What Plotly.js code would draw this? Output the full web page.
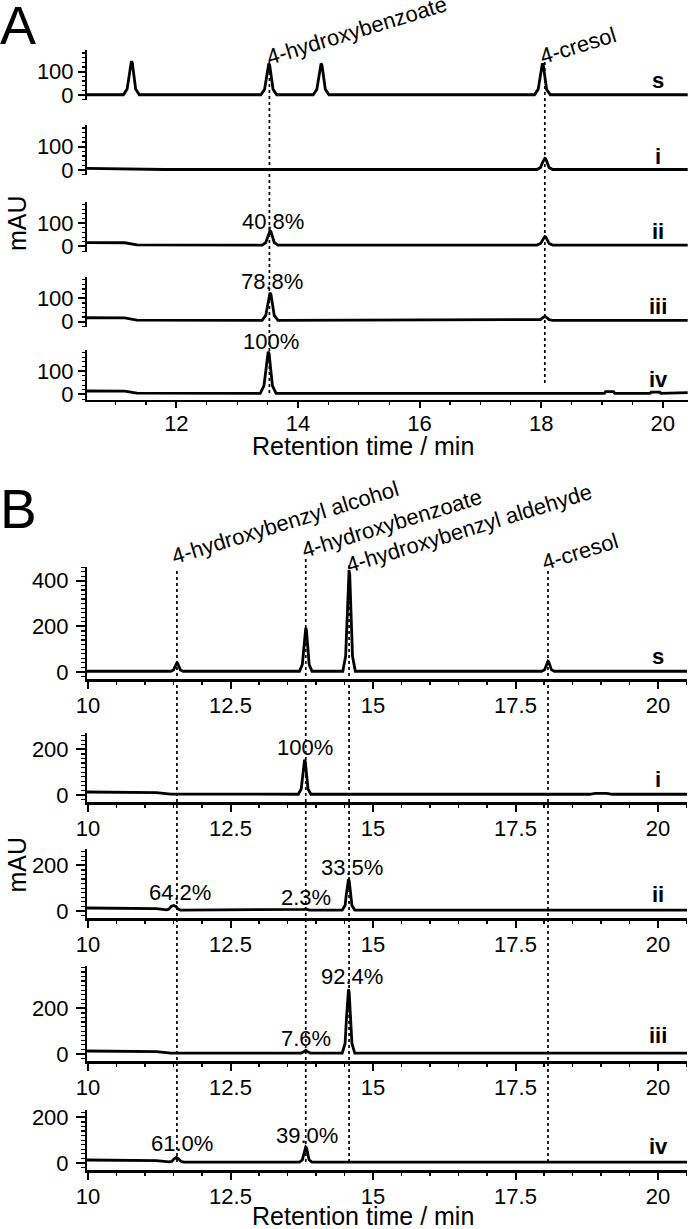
<!DOCTYPE html>
<html>
<head>
<meta charset="utf-8">
<script src="https://cdn.plot.ly/plotly-3.0.1.min.js"></script>
<style>html,body{margin:0;padding:0;background:#fff;}#chart{width:693px;height:1229px;}</style>
</head>
<body>
<div id="chart"></div>
<script>
// ---------------- DATA ----------------
// Panel A: retention time (min) / absorbance (mAU)
const traceNames = ['s', 'i', 'ii', 'iii', 'iv'];

const A_s_x = [10.53, 11.13, 11.19, 11.22, 11.245, 11.26, 11.275, 11.30, 11.33, 11.39, 13.39, 13.45, 13.48, 13.505, 13.52, 13.535, 13.56, 13.59, 13.65, 14.25, 14.31, 14.34, 14.365, 14.38, 14.395, 14.42, 14.45, 14.51, 17.89, 17.95, 17.98, 18.005, 18.02, 18.035, 18.06, 18.09, 18.15, 20.41];
const A_s_y = [1, 1, 26, 87, 138, 145, 138, 87, 26, 1, 1, 24, 81, 128, 135, 128, 81, 24, 1, 1, 24, 81, 128, 135, 128, 81, 24, 1, 1, 24, 81, 128, 135, 128, 81, 24, 1, 1];

const A_i_x = [10.53, 11.15, 11.5, 11.8, 17.93, 17.99, 18.02, 18.045, 18.06, 18.075, 18.10, 18.13, 18.19, 20.41];
const A_i_y = [7, 6, 3, 2, 2, 11, 31, 48, 50, 48, 31, 11, 2, 2];

const A_ii_x = [10.53, 11.15, 11.35, 13.41, 13.47, 13.50, 13.525, 13.54, 13.555, 13.58, 13.61, 13.67, 17.93, 17.99, 18.02, 18.045, 18.06, 18.075, 18.10, 18.13, 18.19, 20.41];
const A_ii_y = [17, 16, 7, 6, 17, 43, 64, 67, 64, 43, 17, 6, 6, 13, 28, 41, 43, 41, 28, 13, 6, 6];

const A_iii_x = [10.53, 11.15, 11.35, 13.41, 13.47, 13.50, 13.525, 13.54, 13.555, 13.58, 13.61, 13.67, 17.93, 17.99, 18.02, 18.045, 18.06, 18.075, 18.10, 18.13, 18.19, 20.41];
const A_iii_y = [17, 16, 7, 6, 27, 77, 118, 124, 118, 77, 27, 6, 6, 9, 16, 21, 22, 21, 16, 9, 6, 6];

const A_iv_x = [10.53, 11.15, 11.35, 13.38, 13.44, 13.47, 13.495, 13.51, 13.525, 13.55, 13.58, 13.64, 19.04, 19.06, 19.19, 19.21, 19.79, 19.81, 19.95, 19.97, 20.15, 20.18, 20.41];
const A_iv_y = [15, 14, 6, 5, 37, 112, 175, 184, 175, 112, 37, 5, 5, 12, 12, 5, 5, 10, 10, 5, 5, 8, 8];

// Panel B
const B_s_x = [9.98, 11.45, 11.50, 11.525, 11.548, 11.56, 11.572, 11.595, 11.62, 11.67, 13.71, 13.76, 13.785, 13.808, 13.82, 13.832, 13.855, 13.88, 13.93, 14.47, 14.52, 14.545, 14.568, 14.58, 14.592, 14.615, 14.64, 14.69, 17.96, 18.01, 18.035, 18.058, 18.07, 18.082, 18.105, 18.13, 18.18, 18.85, 18.95, 19.1, 19.2, 20.51];
const B_s_y = [3, 3, 9, 24, 38, 40, 38, 24, 9, 3, 3, 32, 107, 184, 193, 184, 107, 32, 3, 3, 70, 247, 425, 447, 425, 247, 70, 3, 3, 10, 27, 45, 47, 45, 27, 10, 3, 3, 6, 6, 3, 3];

const B_i_x = [9.98, 11.0, 11.2, 11.45, 12.5, 13.69, 13.74, 13.765, 13.788, 13.80, 13.812, 13.835, 13.86, 13.91, 18.8, 18.9, 19.1, 19.2, 20.51];
const B_i_y = [13, 13, 10, 4, 3, 3, 26, 86, 147, 155, 147, 86, 26, 3, 3, 7, 7, 3, 3];

const B_ii_x = [9.98, 11.0, 11.2, 11.38, 11.42, 11.46, 11.50, 11.54, 11.58, 11.62, 13.75, 13.80, 13.82, 13.84, 13.89, 14.46, 14.51, 14.535, 14.558, 14.57, 14.582, 14.605, 14.63, 14.68, 18.8, 18.9, 19.1, 19.2, 20.51];
const B_ii_y = [13, 13, 10, 5, 8, 20, 24, 20, 8, 4, 4, 7, 8, 7, 4, 4, 24, 78, 133, 139, 133, 78, 24, 4, 4, 7, 7, 4, 4];

const B_iii_x = [9.98, 11.0, 11.2, 11.45, 13.74, 13.79, 13.82, 13.85, 13.90, 14.46, 14.51, 14.535, 14.558, 14.57, 14.582, 14.605, 14.63, 14.68, 18.8, 18.9, 19.1, 19.2, 20.51];
const B_iii_y = [13, 13, 10, 4, 4, 10, 16, 10, 4, 4, 46, 158, 270, 284, 270, 158, 46, 4, 4, 7, 7, 4, 4];

const B_iv_x = [9.98, 11.0, 11.2, 11.42, 11.47, 11.51, 11.55, 11.59, 11.63, 11.68, 13.71, 13.76, 13.785, 13.808, 13.82, 13.832, 13.855, 13.88, 13.93, 18.8, 18.9, 19.1, 19.2, 20.51];
const B_iv_y = [13, 13, 10, 5, 7, 18, 24, 18, 7, 4, 4, 13, 40, 67, 70, 67, 40, 13, 4, 4, 7, 7, 4, 4];

// Compound marker lines (retention times) and names
const A_compounds = ['4-hydroxybenzoate', '4-cresol'];
const A_compound_t = [13.53, 18.06];
const B_compounds = ['4-hydroxybenzyl alcohol', '4-hydroxybenzoate', '4-hydroxybenzyl aldehyde', '4-cresol'];
const B_compound_t = [11.56, 13.82, 14.58, 18.07];

// Percentage labels
const A_pct_text = ['40.8%', '78.8%', '100%'];
const A_pct_trace = [2, 3, 4];
const A_pct_t = [13.54, 13.54, 13.51];
const B_pct_text = ['100%', '64.2%', '2.3%', '33.5%', '92.4%', '7.6%', '61.0%', '39.0%'];
const B_pct_trace = [1, 2, 2, 2, 3, 3, 4, 4];
const B_pct_t = [13.80, 11.50, 13.82, 14.57, 14.57, 13.82, 11.55, 13.82];

const xTitle = 'Retention time / min';
const yTitle = 'mAU';

// ---------------- LAYOUT (pixel geometry) ----------------
const W = 693, H = 1229;
const px = v => v / W;
const py = v => 1 - v / H;
const FONT = 'Liberation Sans, Arial, Helvetica, sans-serif';

const Ax = [A_s_x, A_i_x, A_ii_x, A_iii_x, A_iv_x];
const Ay = [A_s_y, A_i_y, A_ii_y, A_iii_y, A_iv_y];
const Bx = [B_s_x, B_i_x, B_ii_x, B_iii_x, B_iv_x];
const By = [B_s_y, B_i_y, B_ii_y, B_iii_y, B_iv_y];

// zero-line pixel rows for panel A subplots; B: zero row and top row
const A_zero = [95, 170, 246.5, 321.7, 394.5];
const B_zero = [672, 795, 911, 1054, 1163];
const B_top = [567, 733, 849, 966, 1110];
const A_label_y = [80, 156.5, 231.7, 306.4, 379.7];
const B_label_y = [656.4, 779.7, 894, 1035.7, 1146.4];

const data = [];
const layout = {
  width: W, height: H, autosize: false,
  margin: {l: 0, r: 0, t: 0, b: 0, pad: 0},
  paper_bgcolor: '#fff', plot_bgcolor: 'rgba(0,0,0,0)',
  showlegend: false,
  font: {family: FONT, color: '#000', size: 22},
  annotations: [], shapes: []
};

const lineStyle = {color: '#000', width: 2.8};

// Panel A
for (let k = 0; k < 5; k++) {
  const yname = k === 0 ? 'y' : 'y' + (k + 1);
  data.push({x: Ax[k], y: Ay[k], xaxis: 'x', yaxis: yname, type: 'scatter', mode: 'lines',
    line: lineStyle, hoverinfo: 'skip', name: traceNames[k]});
  layout[k === 0 ? 'yaxis' : 'yaxis' + (k + 1)] = {
    domain: [py(A_zero[k] + 5), py(A_zero[k] - 45)], range: [-21.5, 193], anchor: 'x',
    showline: true, linecolor: '#000', linewidth: 2, showgrid: false, zeroline: false,
    ticks: 'outside', ticklen: 7, tickwidth: 2, tickcolor: '#000', dtick: 100, tick0: 0,
    minor: {ticks: 'outside', ticklen: 3, tickwidth: 1.2, tickcolor: '#000', dtick: 20, showgrid: false},
    tickfont: {size: 22, family: FONT, color: '#000'}, fixedrange: true
  };
  layout.annotations.push({text: '<b>' + traceNames[k] + '</b>', xref: 'paper', yref: 'paper',
    x: px(658), y: py(A_label_y[k]), xanchor: 'center', yanchor: 'middle', showarrow: false,
    font: {size: 22, family: FONT, color: '#000'}});
}
layout.xaxis = {
  domain: [px(87), px(688)], range: [10.53, 20.415], anchor: 'y5',
  showline: true, linecolor: '#000', linewidth: 2.2, showgrid: false, zeroline: false,
  ticks: 'outside', ticklen: 6, tickwidth: 2, tickcolor: '#000', dtick: 2, tick0: 0,
  minor: {ticks: 'outside', ticklen: 3.5, tickwidth: 1.2, tickcolor: '#000', dtick: 0.5, showgrid: false},
  tickfont: {size: 22, family: FONT, color: '#000'}, ticklabelstandoff: -3, fixedrange: true
};

// Panel B
for (let k = 0; k < 5; k++) {
  const xi = k + 2, yi = k + 6;
  data.push({x: Bx[k], y: By[k], xaxis: 'x' + xi, yaxis: 'y' + yi, type: 'scatter', mode: 'lines',
    line: lineStyle, hoverinfo: 'skip', name: traceNames[k]});
  const top = (B_zero[k] - B_top[k]) / 0.228;
  layout['yaxis' + yi] = {
    domain: [py(B_zero[k] + 7), py(B_top[k])], range: [-31, top], anchor: 'x' + xi,
    showline: true, linecolor: '#000', linewidth: 2, showgrid: false, zeroline: false,
    ticks: 'outside', ticklen: 9, tickwidth: 2, tickcolor: '#000', dtick: 200, tick0: 0,
    minor: {ticks: 'outside', ticklen: 4.5, tickwidth: 1.2, tickcolor: '#000', dtick: 20, showgrid: false},
    tickfont: {size: 22, family: FONT, color: '#000'}, ticklabelstandoff: 3, fixedrange: true
  };
  layout['xaxis' + xi] = {
    domain: [px(87), px(687)], range: [9.982, 20.509], anchor: 'y' + yi,
    showline: true, linecolor: '#000', linewidth: 2.5, showgrid: false, zeroline: false,
    ticks: 'outside', ticklen: 7, tickwidth: 2, tickcolor: '#000', dtick: 2.5, tick0: 0,
    minor: {ticks: 'outside', ticklen: 3.5, tickwidth: 1.5, tickcolor: '#000', dtick: 0.5, showgrid: false},
    tickfont: {size: 22, family: FONT, color: '#000'}, ticklabelstandoff: -2, fixedrange: true
  };
  layout.annotations.push({text: '<b>' + traceNames[k] + '</b>', xref: 'paper', yref: 'paper',
    x: px(658), y: py(B_label_y[k]), xanchor: 'center', yanchor: 'middle', showarrow: false,
    font: {size: 22, family: FONT, color: '#000'}});
}

// Dotted marker lines
const dotLine = {color: '#000', width: 1.7, dash: 'dot'};
const A_line_top = [61, 60];
const A_line_bot = [393, 383];
A_compound_t.forEach((t, i) => {
  layout.shapes.push({type: 'line', xref: 'x', yref: 'paper', x0: t, x1: t,
    y0: py(A_line_bot[i]), y1: py(A_line_top[i]), line: dotLine, layer: 'below'});
});
const B_line_top = [568, 557, 565, 568];
B_compound_t.forEach((t, i) => {
  layout.shapes.push({type: 'line', xref: 'x2', yref: 'paper', x0: t, x1: t,
    y0: py(1162), y1: py(B_line_top[i]), line: dotLine, layer: 'below'});
});

// Rotated compound names (center positions in px, shift relative to line)
const ANG = -17;
const A_name_cy = [30, 46];
const A_name_dx = [87.5, 33.5];
A_compounds.forEach((txt, i) => {
  layout.annotations.push({text: txt, xref: 'x', yref: 'paper', x: A_compound_t[i], xshift: A_name_dx[i],
    y: py(A_name_cy[i]), xanchor: 'center', yanchor: 'middle', textangle: ANG, showarrow: false,
    font: {size: 22, family: FONT, color: '#000'}});
});
const B_name_cy = [522, 523, 528, 552];
const B_name_dx = [108, 85.5, 119.5, 32.5];
B_compounds.forEach((txt, i) => {
  layout.annotations.push({text: txt, xref: 'x2', yref: 'paper', x: B_compound_t[i], xshift: B_name_dx[i],
    y: py(B_name_cy[i]), xanchor: 'center', yanchor: 'middle', textangle: ANG, showarrow: false,
    font: {size: 22, family: FONT, color: '#000'}});
});

// Percentage labels
const A_pct_cy = [221, 282, 341];
const A_pct_dx = [2.5, 2, 3];
A_pct_text.forEach((txt, i) => {
  layout.annotations.push({text: txt, xref: 'x', yref: 'paper', x: A_pct_t[i], xshift: A_pct_dx[i],
    y: py(A_pct_cy[i]), xanchor: 'center', yanchor: 'middle', showarrow: false,
    font: {size: 22, family: FONT, color: '#000'}});
});
const B_pct_cy = [747, 892, 897, 867, 977, 1038.3, 1143.3, 1135];
const B_pct_dx = [0, 6.5, 0, 3.5, 3.5, 0, 5.5, 1.5];
B_pct_text.forEach((txt, i) => {
  layout.annotations.push({text: txt, xref: 'x' + (B_pct_trace[i] + 2), yref: 'paper', x: B_pct_t[i], xshift: B_pct_dx[i],
    y: py(B_pct_cy[i]), xanchor: 'center', yanchor: 'middle', showarrow: false,
    font: {size: 22, family: FONT, color: '#000'}});
});

// Titles, panel letters
[446, 1216].forEach(cy => {
  layout.annotations.push({text: xTitle, xref: 'paper', yref: 'paper', x: px(363), y: py(cy),
    xanchor: 'center', yanchor: 'middle', showarrow: false, font: {size: 25, family: FONT, color: '#000'}});
});
[223.5, 865].forEach(cy => {
  layout.annotations.push({text: yTitle, xref: 'paper', yref: 'paper', x: px(16.5), y: py(cy),
    xanchor: 'center', yanchor: 'middle', textangle: -90, showarrow: false, font: {size: 25, family: FONT, color: '#000'}});
});
layout.annotations.push({text: 'A', xref: 'paper', yref: 'paper', x: px(18), y: py(25),
  xanchor: 'center', yanchor: 'middle', showarrow: false, font: {size: 54, family: FONT, color: '#000'}});
layout.annotations.push({text: 'B', xref: 'paper', yref: 'paper', x: px(18.5), y: py(509),
  xanchor: 'center', yanchor: 'middle', showarrow: false, font: {size: 55, family: FONT, color: '#000'}});

Plotly.newPlot('chart', data, layout, {staticPlot: true, displayModeBar: false});
</script>
</body>
</html>
